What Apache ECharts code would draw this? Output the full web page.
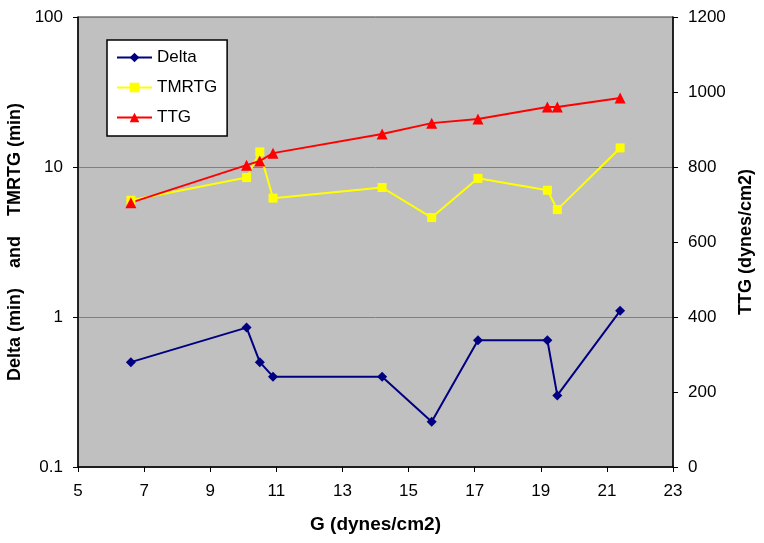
<!DOCTYPE html>
<html><head><meta charset="utf-8">
<script src="https://cdn.jsdelivr.net/npm/echarts@6/dist/echarts.min.js"></script>
<style>html,body{margin:0;padding:0;background:#fff}#c{width:764px;height:543px}</style>
</head><body><div id="c"></div>
<script>
const gDelta = [6.6, 10.1, 10.5, 10.9, 14.2, 15.7, 17.1, 19.2, 19.5, 21.4];
const deltaVals = [0.5, 0.85, 0.5, 0.4, 0.4, 0.2, 0.7, 0.7, 0.3, 1.1];
const tmrtgVals = [6.0, 8.5, 12.6, 6.2, 7.3, 4.6, 8.4, 7.0, 5.2, 13.4];
const ttgVals = [705, 805, 816, 837, 888, 917, 928, 960, 960, 984];
const xTicks = {min: 5, max: 23, interval: 2};
const rightTicks = {min: 0, max: 1200, interval: 200};

const font = 'Liberation Sans, Arial, sans-serif';
const pair = (xs, ys) => xs.map((x, i) => [x, ys[i]]);
const chart = echarts.init(document.getElementById('c'));
chart.setOption({
  animation: false,
  backgroundColor: '#fff',
  grid: {left: 78, right: 91, top: 17, bottom: 76, outerBoundsMode: 'none', containLabel: false,
    show: true, backgroundColor: '#c0c0c0', borderColor: '#333', borderWidth: 1},
  legend: {
    orient: 'vertical', left: 107, top: 40,
    backgroundColor: '#fff', borderColor: '#000', borderWidth: 1.5,
    padding: [9, 10, 10, 9], itemWidth: 35, itemHeight: 12, itemGap: 13,
    textStyle: {fontFamily: font, fontSize: 17, color: '#000'},
    data: ['Delta', 'TMRTG', 'TTG']
  },
  xAxis: {
    type: 'value', min: xTicks.min, max: xTicks.max, interval: xTicks.interval,
    name: 'G (dynes/cm2)', nameLocation: 'middle', nameGap: 48,
    nameTextStyle: {fontFamily: font, fontSize: 19, fontWeight: 'bold', color: '#000'},
    axisLine: {lineStyle: {color: '#000', width: 1.5}},
    axisTick: {show: true, inside: false, length: 5, lineStyle: {color: '#000'}},
    axisLabel: {fontFamily: font, fontSize: 17, color: '#000', margin: 16},
    splitLine: {show: false}
  },
  yAxis: [{
    type: 'log', logBase: 10, min: 0.1, max: 100,
    name: 'Delta (min)    and    TMRTG (min)', nameLocation: 'middle', nameGap: 52,
    nameTextStyle: {fontFamily: font, fontSize: 18, fontWeight: 'bold', color: '#000'},
    axisLine: {show: true, lineStyle: {color: '#000', width: 1.5}},
    axisTick: {show: true, length: 5, lineStyle: {color: '#000'}},
    axisLabel: {fontFamily: font, fontSize: 17, color: '#000', margin: 15,
      formatter: v => String(+v.toPrecision(3))},
    minorTick: {show: false},
    splitLine: {show: true, lineStyle: {color: '#808080', width: 1}}
  }, {
    type: 'value', min: rightTicks.min, max: rightTicks.max, interval: rightTicks.interval,
    position: 'right',
    name: 'TTG (dynes/cm2)', nameLocation: 'middle', nameGap: 63,
    nameTextStyle: {fontFamily: font, fontSize: 18, fontWeight: 'bold', color: '#000'},
    axisLine: {show: true, lineStyle: {color: '#000', width: 1.5}},
    axisTick: {show: true, length: 5, lineStyle: {color: '#000'}},
    axisLabel: {fontFamily: font, fontSize: 17, color: '#000', margin: 15,
      formatter: v => String(v)},
    splitLine: {show: false}
  }],
  series: [{
    name: 'Delta', type: 'line', yAxisIndex: 0, data: pair(gDelta, deltaVals),
    symbol: 'diamond', symbolSize: 10, color: '#000080',
    lineStyle: {width: 2, color: '#000080'}, itemStyle: {color: '#000080'}
  }, {
    name: 'TMRTG', type: 'line', yAxisIndex: 0, data: pair(gDelta, tmrtgVals),
    symbol: 'rect', symbolSize: 9, color: '#ffff00',
    lineStyle: {width: 2, color: '#ffff00'}, itemStyle: {color: '#ffff00'}
  }, {
    name: 'TTG', type: 'line', yAxisIndex: 1, data: pair(gDelta, ttgVals),
    symbol: 'triangle', symbolSize: 11, color: '#ff0000',
    lineStyle: {width: 2, color: '#ff0000'}, itemStyle: {color: '#ff0000'}
  }]
});
</script></body></html>
